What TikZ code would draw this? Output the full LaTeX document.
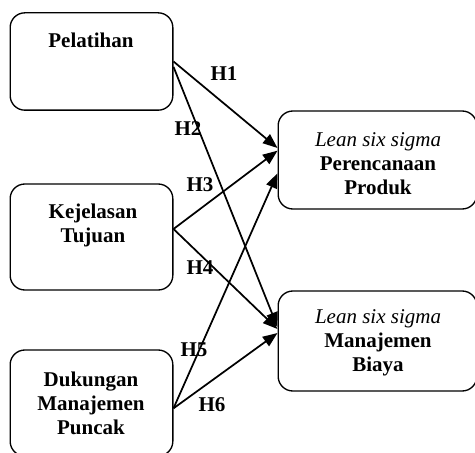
\documentclass[tikz,border=0pt]{standalone}
\usepackage{fontspec}
\setmainfont{Liberation Serif}
\usetikzlibrary{arrows.meta}

\begin{document}
\begin{tikzpicture}[x=0.75pt, y=-0.75pt,
    box/.style={draw, line width=1pt, rounded corners=11pt, inner sep=0pt},
    lbl/.style={font=\fontsize{15.75}{18}\selectfont\bfseries, align=center, inner sep=0pt},
    hyp/.style={-{Triangle[length=11pt, width=8.5pt]}, line width=1.3pt}]
        \useasboundingbox (0, 0) rectangle (475, 453);

        \node[box, minimum width=122pt, minimum height=73pt] (pel) at (91.5, 61.5) {};
        \node[box, minimum width=122pt, minimum height=79.5pt] (kej) at (91.5, 237) {};
        \node[box, minimum width=122pt, minimum height=79.5pt] (duk) at (91.5, 403) {};
        \node[box, minimum width=149pt, minimum height=73.5pt] (ren) at (377.5, 160) {};
        \node[box, minimum width=149pt, minimum height=75pt] (bia) at (377.5, 341) {};

        \node[lbl] (tpel) at (91, 40) {Pelatihan};
        \node[lbl] (tkej) at (93, 225) {Kejelasan\\Tujuan};
        \node[lbl] (tduk) at (91, 403) {Dukungan\\Manajemen\\Puncak};
        \node[lbl] (tren) at (378, 164) {\textit{\mdseries Lean six sigma}\\Perencanaan\\Produk};
        \node[lbl] (tbia) at (378, 343) {\textit{\mdseries Lean six sigma}\\Manajemen\\Biaya};

        \draw[hyp] (pel.east) -- ([yshift=9pt]ren.west);
        \draw[hyp] ([yshift=-4pt]pel.east) -- ([yshift=10.5pt]bia.west);
        \draw[hyp] ([yshift=6pt]kej.east) -- ([yshift=7pt]ren.west);
        \draw[hyp] ([yshift=6pt]kej.east) -- ([yshift=9pt]bia.west);
        \draw[hyp] ([yshift=-4pt]duk.east) -- ([yshift=-10pt]ren.west);
        \draw[hyp] ([yshift=-4pt]duk.east) -- ([yshift=6pt]bia.west);

        \node[lbl] (h1) at (224, 74) {H1};
        \node[lbl] (h2) at (188, 129) {H2};
        \node[lbl] (h3) at (200, 185) {H3};
        \node[lbl] (h4) at (200, 268) {H4};
        \node[lbl] (h5) at (194, 350) {H5};
        \node[lbl] (h6) at (212, 405) {H6};

    \end{tikzpicture}
\end{document}
